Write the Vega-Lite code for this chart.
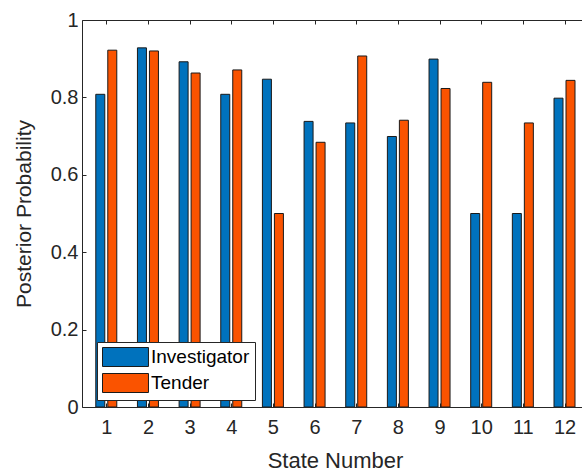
{
  "$schema": "https://vega.github.io/schema/vega-lite/v6.json",
  "autosize": "none",
  "width": 500,
  "height": 387,
  "padding": {"left": 82, "top": 20, "right": 0, "bottom": 65},
  "background": "white",
  "config": {
    "view": {"stroke": null},
    "font": "Liberation Sans",
    "axis": {"labelFont": "Liberation Sans", "titleFont": "Liberation Sans", "labelColor": "#262626", "titleColor": "#262626", "domainColor": "#262626", "tickColor": "#262626", "grid": false, "titleFontWeight": "normal", "labelFontSize": 20, "titleFontSize": 21}
  },
  "data": {"values": [
    {"state": 1, "series": "Investigator", "p": 0.808},
    {"state": 2, "series": "Investigator", "p": 0.928},
    {"state": 3, "series": "Investigator", "p": 0.892},
    {"state": 4, "series": "Investigator", "p": 0.808},
    {"state": 5, "series": "Investigator", "p": 0.847},
    {"state": 6, "series": "Investigator", "p": 0.738},
    {"state": 7, "series": "Investigator", "p": 0.734},
    {"state": 8, "series": "Investigator", "p": 0.699},
    {"state": 9, "series": "Investigator", "p": 0.899},
    {"state": 10, "series": "Investigator", "p": 0.5},
    {"state": 11, "series": "Investigator", "p": 0.5},
    {"state": 12, "series": "Investigator", "p": 0.798},
    {"state": 1, "series": "Tender", "p": 0.922},
    {"state": 2, "series": "Tender", "p": 0.92},
    {"state": 3, "series": "Tender", "p": 0.863},
    {"state": 4, "series": "Tender", "p": 0.871},
    {"state": 5, "series": "Tender", "p": 0.5},
    {"state": 6, "series": "Tender", "p": 0.684},
    {"state": 7, "series": "Tender", "p": 0.907},
    {"state": 8, "series": "Tender", "p": 0.741},
    {"state": 9, "series": "Tender", "p": 0.823},
    {"state": 10, "series": "Tender", "p": 0.839},
    {"state": 11, "series": "Tender", "p": 0.734},
    {"state": 12, "series": "Tender", "p": 0.844}
  ]},
  "resolve": {"axis": {"x": "independent"}},
  "layer": [
    {
      "transform": [{"filter": "datum.series === 'Investigator'"}],
      "mark": {"type": "bar", "xOffset": -6, "size": 9, "stroke": "#1a1a1a", "strokeWidth": 1, "clip": true},
      "encoding": {
        "x": {"field": "state", "type": "quantitative", "scale": {"domain": [0.537, 12.3], "nice": false, "zero": false},
          "axis": {"orient": "bottom", "values": [1,2,3,4,5,6,7,8,9,10,11,12], "title": "State Number", "titleFontSize": 22, "tickSize": -4, "labelPadding": 14, "titlePadding": 13, "titleX": 253, "format": "d"}},
        "y": {"field": "p", "type": "quantitative", "scale": {"domain": [0, 1], "nice": false},
          "axis": {"values": [0, 0.2, 0.4, 0.6, 0.8, 1], "format": "~g", "title": "Posterior Probability", "tickSize": -4, "labelPadding": 8, "titlePadding": 16}},
        "color": {"field": "series", "type": "nominal", "scale": {"domain": ["Investigator", "Tender"], "range": ["#0072BD", "#FA5300"]},
          "legend": {"orient": "none", "legendX": 15, "legendY": 322, "title": null, "symbolType": "M-1,-1H3.84V1H-1Z", "symbolSize": 361, "symbolStrokeColor": "#1a1a1a", "symbolStrokeWidth": 1, "symbolOpacity": 1, "labelFontSize": 19, "labelFont": "Liberation Sans", "labelColor": "#000000", "strokeColor": "#262626", "fillColor": "white", "padding": 5, "rowPadding": 2, "labelOffset": 29}}
      }
    },
    {
      "transform": [{"filter": "datum.series === 'Tender'"}],
      "mark": {"type": "bar", "xOffset": 6, "size": 9, "stroke": "#1a1a1a", "strokeWidth": 1, "clip": true},
      "encoding": {
        "x": {"field": "state", "type": "quantitative",
          "axis": {"orient": "top", "values": [1,2,3,4,5,6,7,8,9,10,11,12], "title": null, "labels": false, "tickSize": -4}},
        "y": {"field": "p", "type": "quantitative"},
        "color": {"field": "series", "type": "nominal"}
      }
    }
  ]
}
